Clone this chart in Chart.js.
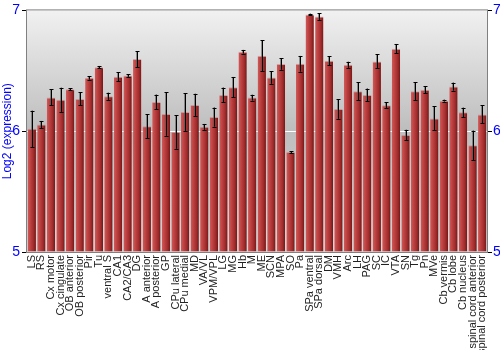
<!DOCTYPE html>
<html>
<head>
<meta charset="utf-8">
<script src="https://cdn.jsdelivr.net/npm/chart.js@4.4.0/dist/chart.umd.min.js"></script>
<style>
  html, body { margin: 0; padding: 0; background: #fff; }
  #wrap { width: 500px; height: 350px; position: relative; }
</style>
</head>
<body>
<div id="wrap"><canvas id="expressionChart"></canvas></div>
<script>
// regiones y valores (log2)
const regions = ['LS', 'RS', 'Cx motor', 'Cx cingulate', 'OB anterior', 'OB posterior', 'Pir', 'Tu',
  'ventral S', 'CA1', 'CA2/CA3', 'DG', 'A anterior', 'A posterior', 'GP', 'CPu lateral', 'CPu medial',
  'MD', 'VA/VL', 'VPM/VPL', 'LG', 'MG', 'Hb', 'M', 'ME', 'SCN', 'MPA', 'SO', 'Pa', 'SPa ventral',
  'SPa dorsal', 'DM', 'VMH', 'Arc', 'LH', 'PAG', 'SC', 'IC', 'VTA', 'SN', 'Tg', 'Pn', 'MVe',
  'Cb vermis', 'Cb lobe', 'Cb nucleus', 'spinal cord anterior', 'spinal cord posterior'];

const expression = [6.02, 6.055, 6.28, 6.26, 6.347, 6.267, 6.442, 6.53,
  6.289, 6.45, 6.461, 6.597, 6.042, 6.242, 6.142, 5.994, 6.158,
  6.217, 6.036, 6.117, 6.30, 6.364, 6.658, 6.278, 6.625, 6.444, 6.556, 5.828, 6.558, 6.967,
  6.95, 6.583, 6.183, 6.55, 6.331, 6.30, 6.578, 6.214, 6.683, 5.969, 6.331, 6.344, 6.106,
  6.253, 6.369, 6.156, 5.883, 6.139];

const errors = [0.15, 0.03, 0.067, 0.10, 0.01, 0.054, 0.015, 0.01,
  0.03, 0.037, 0.011, 0.065, 0.10, 0.061, 0.18, 0.139, 0.155,
  0.093, 0.024, 0.079, 0.061, 0.085, 0.015, 0.024, 0.128, 0.051, 0.047, 0.008, 0.065, 0.006,
  0.028, 0.038, 0.08, 0.025, 0.074, 0.053, 0.057, 0.026, 0.039, 0.043, 0.075, 0.028, 0.10,
  0.008, 0.033, 0.039, 0.122, 0.075];

const yTicks = [5, 6, 7];

// fondo degradado y marco
const backgroundPlugin = {
  id: 'plotBackground',
  beforeDraw(chart) {
    const { ctx, chartArea: a } = chart;
    const g = ctx.createLinearGradient(0, a.top, 0, a.bottom);
    g.addColorStop(0, '#f1f1f1');
    g.addColorStop(0.49, '#bebebe');
    g.addColorStop(1, '#d6d6d6');
    ctx.save();
    ctx.fillStyle = g;
    ctx.fillRect(a.left, a.top, a.right - a.left, a.bottom - a.top);
    ctx.restore();
  },
  afterDraw(chart) {
    const { ctx, chartArea: a } = chart;
    ctx.save();
    ctx.strokeStyle = '#808080';
    ctx.lineWidth = 1;
    ctx.strokeRect(a.left - 0.5, a.top - 0.5, a.right - a.left + 1, a.bottom - a.top + 1);
    ctx.restore();
  }
};

// barras de error
const errorBarPlugin = {
  id: 'errorBars',
  afterDatasetsDraw(chart) {
    const { ctx } = chart;
    const y = chart.scales.y;
    const meta = chart.getDatasetMeta(0);
    ctx.save();
    meta.data.forEach((bar, i) => {
      const x = Math.round(bar.x) + 0.5;
      const top = y.getPixelForValue(expression[i] + errors[i]);
      const bottom = y.getPixelForValue(expression[i] - errors[i]);
      ctx.strokeStyle = 'rgba(90,90,90,0.6)';
      ctx.lineWidth = 1;
      ctx.beginPath();
      ctx.moveTo(x - 1, top); ctx.lineTo(x - 1, bottom);
      ctx.stroke();
      ctx.strokeStyle = '#000';
      ctx.beginPath();
      ctx.moveTo(x, top); ctx.lineTo(x, bottom);
      ctx.moveTo(x - 2, Math.round(top) + 0.5); ctx.lineTo(x + 2, Math.round(top) + 0.5);
      ctx.moveTo(x - 2, Math.round(bottom) + 0.5); ctx.lineTo(x + 2, Math.round(bottom) + 0.5);
      ctx.stroke();
    });
    ctx.restore();
  }
};

function barGradient(context) {
  const chart = context.chart;
  const xs = chart.scales.x;
  if (!chart.chartArea || !xs) return '#b03434';
  const center = xs.getPixelForValue(context.dataIndex);
  const half = (xs.width / regions.length) * 0.87 / 2;
  const g = chart.ctx.createLinearGradient(center - half, 0, center + half, 0);
  g.addColorStop(0, '#d25a5a');
  g.addColorStop(0.3, '#c04444');
  g.addColorStop(0.7, '#a12c2c');
  g.addColorStop(1, '#761616');
  return g;
}

const ctx = document.getElementById('expressionChart').getContext('2d');
const expressionChart = new Chart(ctx, {
  type: 'bar',
  data: {
    labels: regions,
    datasets: [{
      data: expression,
      backgroundColor: barGradient,
      borderColor: 'rgba(200,110,110,0.5)',
      borderWidth: { top: 1, left: 0, right: 0, bottom: 0 },
      borderSkipped: 'bottom',
      categoryPercentage: 0.87,
      barPercentage: 1.0,
      base: 5
    }]
  },
  options: {
    responsive: true,
    maintainAspectRatio: false,
    animation: false,
    layout: { padding: { top: 10, left: 0, right: 0, bottom: 0 } },
    scales: {
      x: {
        grid: { display: false, drawTicks: false },
        border: { display: false },
        ticks: {
          autoSkip: false,
          minRotation: 90,
          maxRotation: 90,
          padding: 3,
          color: '#222',
          font: { family: 'Liberation Sans, Arial, sans-serif', size: 11 }
        },
        afterFit(scale) { scale.height = 98; }
      },
      y: {
        position: 'left',
        min: 5,
        max: 7,
        afterBuildTicks(scale) { scale.ticks = yTicks.map(v => ({ value: v })); },
        grid: {
          color: (c) => c.tick && c.tick.value === 6 ? '#ffffff' : 'rgba(0,0,0,0)',
          tickColor: '#000',
          tickLength: 5
        },
        border: { display: false },
        ticks: {
          color: '#0000ff',
          padding: 2,
          font: { family: 'Liberation Sans, Arial, sans-serif', size: 14 }
        },
        title: {
          display: true,
          text: 'Log2 (expression)',
          color: '#0000ff',
          padding: 0,
          font: { family: 'Liberation Sans, Arial, sans-serif', size: 12 }
        },
        afterFit(scale) { scale.width = 27; }
      },
      y2: {
        position: 'right',
        min: 5,
        max: 7,
        afterBuildTicks(scale) { scale.ticks = yTicks.map(v => ({ value: v })); },
        grid: { drawOnChartArea: false, tickColor: '#000', tickLength: 5 },
        border: { display: false },
        ticks: {
          color: '#0000ff',
          padding: 1,
          font: { family: 'Liberation Sans, Arial, sans-serif', size: 14 }
        },
        afterFit(scale) { scale.width = 13; }
      }
    },
    plugins: {
      legend: { display: false },
      tooltip: { enabled: false }
    }
  },
  plugins: [backgroundPlugin, errorBarPlugin]
});
</script>
</body>
</html>
